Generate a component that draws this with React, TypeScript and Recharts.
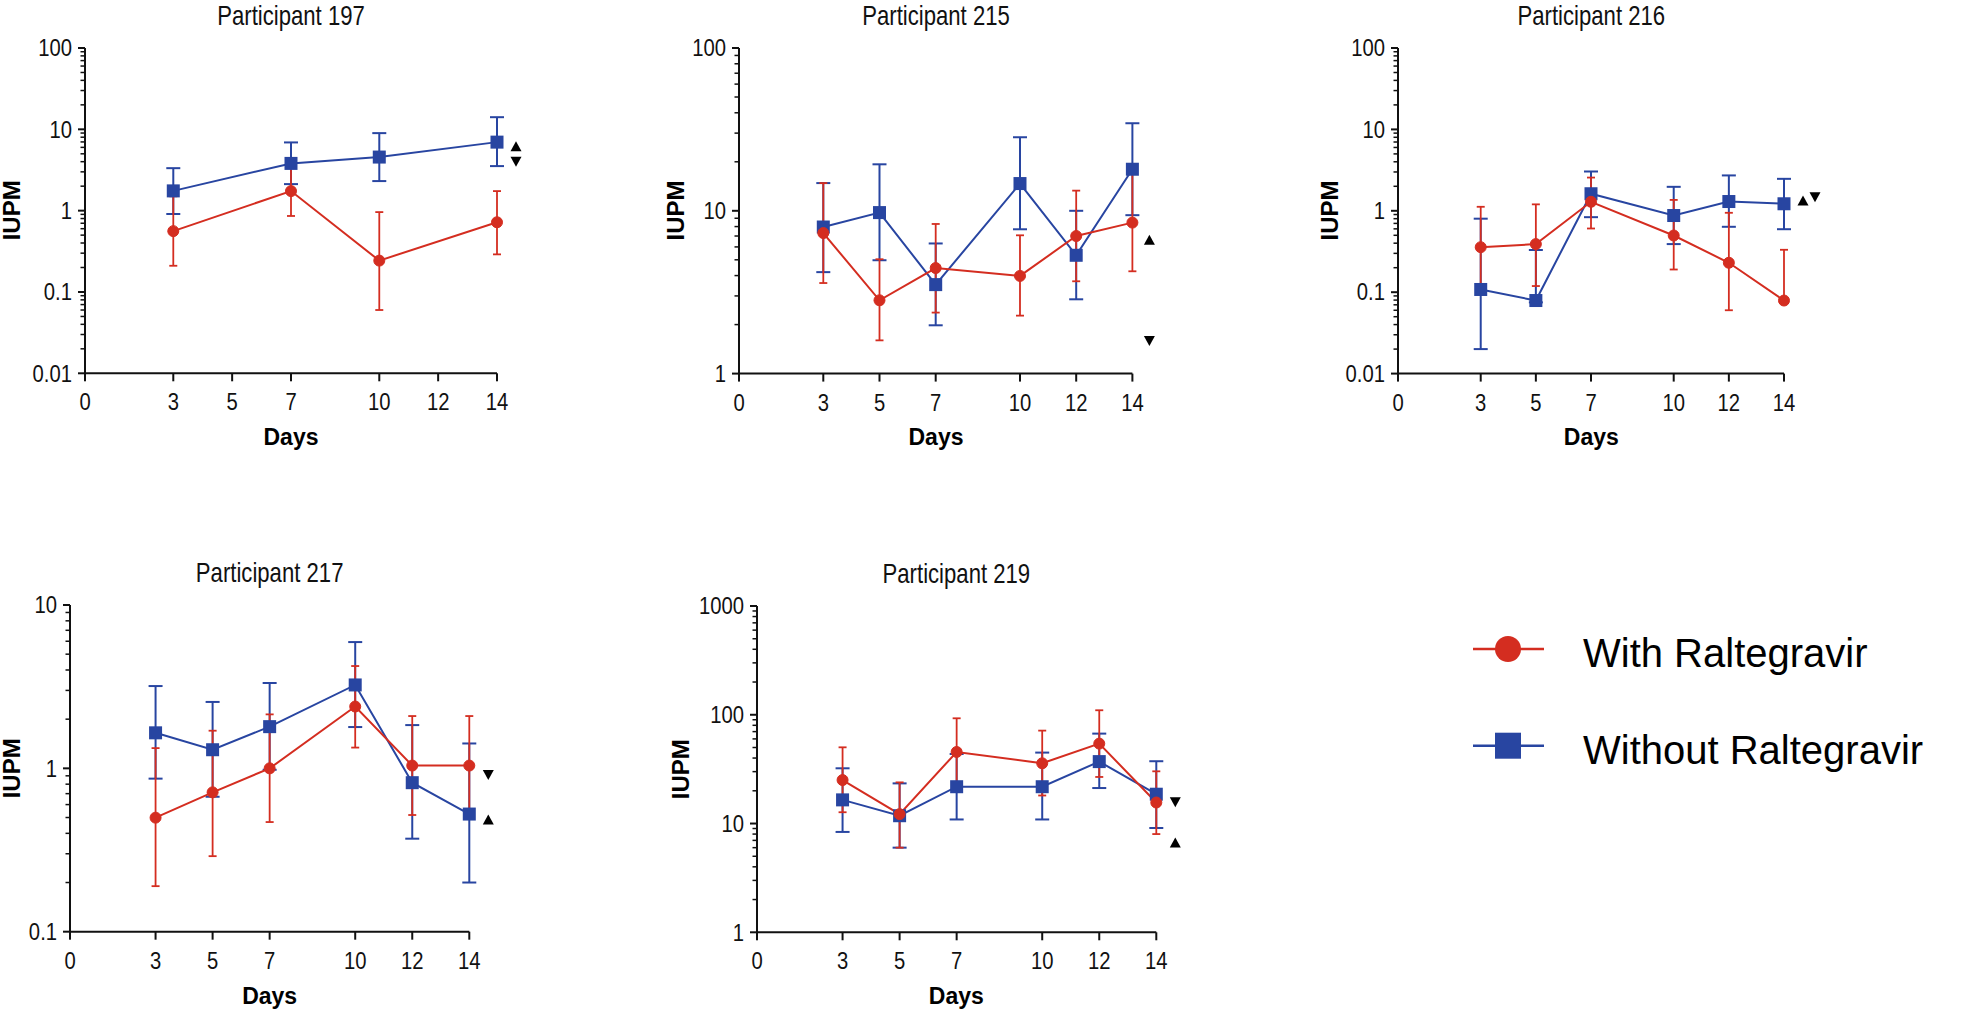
import React from "react";
import { LineChart, Line, XAxis, YAxis, ErrorBar, ReferenceDot } from "recharts";

const RED = "#D42D20";
const BLUE = "#2845A1";
const INK = "#111111";
const SANS = "'Liberation Sans', Arial, Helvetica, sans-serif";

const seriesNames = ["With Raltegravir", "Without Raltegravir"];
const dayTicks = [0, 3, 5, 7, 10, 12, 14];

// Participant 197
const p197Days = [3, 7, 10, 14];
const p197With = [0.56, 1.74, 0.243, 0.72];
const p197WithLow = [0.21, 0.86, 0.06, 0.29];
const p197WithHigh = [1.5, 3.4, 0.96, 1.74];
const p197Without = [1.75, 3.81, 4.56, 6.96];
const p197WithoutLow = [0.91, 2.12, 2.31, 3.53];
const p197WithoutHigh = [3.33, 6.9, 8.98, 14.1];
const p197YTicks = [0.01, 0.1, 1, 10, 100];
const p197Marks = [{ value: 6.2, dir: "up" }, { value: 4.0, dir: "down" }];

// Participant 215
const p215Days = [3, 5, 7, 10, 12, 14];
const p215With = [7.3, 2.82, 4.45, 3.98, 7.0, 8.46];
const p215WithLow = [3.6, 1.6, 2.37, 2.27, 3.69, 4.25];
const p215WithHigh = [14.8, 5.04, 8.3, 7.07, 13.3, 16.9];
const p215Without = [7.95, 9.75, 3.52, 14.7, 5.33, 18];
const p215WithoutLow = [4.2, 4.97, 1.98, 7.7, 2.86, 9.4];
const p215WithoutHigh = [14.8, 19.3, 6.3, 28.3, 10, 34.5];
const p215YTicks = [1, 10, 100];
const p215Marks = [{ value: 6.65, dir: "up" }, { value: 1.585, dir: "down" }];

// Participant 216
const p216Days = [3, 5, 7, 10, 12, 14];
const p216With = [0.357, 0.39, 1.29, 0.497, 0.23, 0.079];
const p216WithLow = [0.119, 0.119, 0.606, 0.19, 0.06, 0.075];
const p216WithHigh = [1.12, 1.2, 2.56, 1.36, 0.945, 0.332];
const p216Without = [0.108, 0.079, 1.62, 0.875, 1.3, 1.22];
const p216WithoutLow = [0.02, 0.075, 0.835, 0.39, 0.636, 0.594];
const p216WithoutHigh = [0.8, 0.33, 3.04, 1.97, 2.72, 2.47];
const p216YTicks = [0.01, 0.1, 1, 10, 100];
const p216Marks = [{ value: 1.34, dir: "up" }, { value: 1.47, dir: "down" }];

// Participant 217
const p217Days = [3, 5, 7, 10, 12, 14];
const p217With = [0.499, 0.713, 1.0, 2.39, 1.04, 1.04];
const p217WithLow = [0.19, 0.29, 0.469, 1.34, 0.518, 0.518];
const p217WithHigh = [1.33, 1.7, 2.14, 4.23, 2.09, 2.09];
const p217Without = [1.65, 1.3, 1.8, 3.24, 0.817, 0.525];
const p217WithoutLow = [0.865, 0.67, 0.98, 1.79, 0.371, 0.2];
const p217WithoutHigh = [3.19, 2.55, 3.33, 5.93, 1.84, 1.42];
const p217YTicks = [0.1, 1, 10];
const p217Marks = [{ value: 0.91, dir: "down" }, { value: 0.487, dir: "up" }];

// Participant 219
const p219Days = [3, 5, 7, 10, 12, 14];
const p219With = [25.1, 12.2, 45.5, 35.8, 54.3, 15.6];
const p219WithLow = [12.7, 6.0, 22.6, 18.1, 26.8, 8.0];
const p219WithHigh = [50.2, 23.9, 92.8, 71.5, 110, 30.2];
const p219Without = [16.5, 11.8, 21.8, 21.8, 37.1, 18.6];
const p219WithoutLow = [8.37, 6.0, 10.9, 10.9, 21.2, 9.1];
const p219WithoutHigh = [32.2, 23.4, 43.6, 44.9, 67.1, 37.4];
const p219YTicks = [1, 10, 100, 1000];
const p219Marks = [{ value: 15.7, dir: "down" }, { value: 6.7, dir: "up" }];

const buildRows = (days, w, wl, wh, wo, wol, woh) =>
  days.map((d, i) => ({
    day: d,
    with: w[i],
    withErr: [w[i] - wl[i], wh[i] - w[i]],
    without: wo[i],
    withoutErr: [wo[i] - wol[i], woh[i] - wo[i]],
  }));

const panels = [
  {
    title: "Participant 197",
    rows: buildRows(p197Days, p197With, p197WithLow, p197WithHigh, p197Without, p197WithoutLow, p197WithoutHigh),
    yTicks: p197YTicks,
    marks: p197Marks,
    markDx: [19, 19],
    rect: { left: 85, top: 47.7, right: 497, bottom: 373 },
    yLabelOff: 73,
  },
  {
    title: "Participant 215",
    rows: buildRows(p215Days, p215With, p215WithLow, p215WithHigh, p215Without, p215WithoutLow, p215WithoutHigh),
    yTicks: p215YTicks,
    marks: p215Marks,
    markDx: [17, 17],
    rect: { left: 739.3, top: 47.7, right: 1132.7, bottom: 373.3 },
    yLabelOff: 63.5,
  },
  {
    title: "Participant 216",
    rows: buildRows(p216Days, p216With, p216WithLow, p216WithHigh, p216Without, p216WithoutLow, p216WithoutHigh),
    yTicks: p216YTicks,
    marks: p216Marks,
    markDx: [19, 31],
    rect: { left: 1398.3, top: 47.7, right: 1784.3, bottom: 373.3 },
    yLabelOff: 69,
  },
  {
    title: "Participant 217",
    rows: buildRows(p217Days, p217With, p217WithLow, p217WithHigh, p217Without, p217WithoutLow, p217WithoutHigh),
    yTicks: p217YTicks,
    marks: p217Marks,
    markDx: [19, 19],
    rect: { left: 70, top: 605, right: 469.3, bottom: 931.7 },
    yLabelOff: 58,
  },
  {
    title: "Participant 219",
    rows: buildRows(p219Days, p219With, p219WithLow, p219WithHigh, p219Without, p219WithoutLow, p219WithoutHigh),
    yTicks: p219YTicks,
    marks: p219Marks,
    markDx: [19, 19],
    rect: { left: 756.7, top: 606, right: 1156, bottom: 932.3 },
    yLabelOff: 75.7,
  },
];

// condensed-looking text: regular face squeezed horizontally around its anchor
const Narrow = ({ x, y, dy = 0, anchor = "middle", size = 23, squeeze = 0.88, children }) => (
  <text
    transform={`translate(${x} ${y}) scale(${squeeze} 1)`}
    x={0}
    y={0}
    dy={dy}
    textAnchor={anchor}
    fontFamily={SANS}
    fontSize={size}
    fill={INK}
  >
    {children}
  </text>
);

const XTick = (props) => {
  const { x, y, payload } = props;
  return <Narrow x={x} y={y} dy={27}>{payload.value}</Narrow>;
};

// decade ticks get a label; the 2..9 minor ticks of the decade above are drawn with them
const YTick = (props) => {
  const { x, y, payload, majors, decadePx } = props;
  const last = payload.value === majors[majors.length - 1];
  const minors = last ? [] : [2, 3, 4, 5, 6, 7, 8, 9];
  return (
    <g>
      <line x1={x - 7} x2={x} y1={y} y2={y} stroke={INK} strokeWidth={2} />
      {minors.map((k) => {
        const yy = y - Math.log10(k) * decadePx;
        return <line key={k} x1={x - 4.5} x2={x} y1={yy} y2={yy} stroke={INK} strokeWidth={1.5} />;
      })}
      <Narrow x={x - 13} y={y} dy={8.2} anchor="end">{String(payload.value)}</Narrow>
    </g>
  );
};

const SquareDot = (props) => {
  const { cx, cy, index } = props;
  if (cx == null || cy == null) return null;
  return <rect key={`sq-${index}`} x={cx - 6.5} y={cy - 6.5} width={13} height={13} fill={BLUE} />;
};

const Tri = ({ cx, cy, dir }) => {
  const d =
    dir === "up"
      ? `M${cx},${cy - 5} L${cx + 5.5},${cy + 5} L${cx - 5.5},${cy + 5} Z`
      : `M${cx},${cy + 5} L${cx + 5.5},${cy - 5} L${cx - 5.5},${cy - 5} Z`;
  return <path d={d} fill="#000" />;
};

const PAD_L = 70;
const PAD_T = 48;
const PAD_R = 50;
const PAD_B = 80;

function Panel({ cfg }) {
  const { rect } = cfg;
  const w = rect.right - rect.left + PAD_L + PAD_R;
  const h = rect.bottom - rect.top + PAD_T + PAD_B;
  const lo = cfg.yTicks[0];
  const hi = cfg.yTicks[cfg.yTicks.length - 1];
  const decadePx = (rect.bottom - rect.top) / (cfg.yTicks.length - 1);
  return (
    <div style={{ position: "absolute", left: rect.left - PAD_L, top: rect.top - PAD_T }}>
      <LineChart width={w} height={h} data={cfg.rows} margin={{ top: PAD_T, right: PAD_R, left: 10, bottom: 5 }}>
        <XAxis
          dataKey="day"
          type="number"
          domain={[0, 14]}
          ticks={dayTicks}
          interval={0}
          height={75}
          axisLine={{ stroke: INK, strokeWidth: 2 }}
          tickLine={{ stroke: INK, strokeWidth: 2 }}
          tickSize={8}
          tickMargin={2}
          tick={<XTick />}
        />
        <YAxis
          type="number"
          scale="log"
          domain={[lo, hi]}
          ticks={cfg.yTicks}
          interval={0}
          width={60}
          axisLine={{ stroke: INK, strokeWidth: 2 }}
          tickLine={false}
          tickSize={0}
          tickMargin={0}
          tick={(p) => <YTick {...p} majors={cfg.yTicks} decadePx={decadePx} />}
        />
        <Line
          dataKey="without"
          name={seriesNames[1]}
          stroke={BLUE}
          strokeWidth={2}
          dot={<SquareDot />}
          activeDot={false}
          isAnimationActive={false}
        >
          <ErrorBar dataKey="withoutErr" direction="y" width={7} strokeWidth={2} stroke={BLUE} isAnimationActive={false} />
        </Line>
        <Line
          dataKey="with"
          name={seriesNames[0]}
          stroke={RED}
          strokeWidth={2}
          dot={{ r: 5.5, fill: RED, stroke: RED, strokeWidth: 1 }}
          activeDot={false}
          isAnimationActive={false}
        >
          <ErrorBar dataKey="withErr" direction="y" width={4} strokeWidth={1.8} stroke={RED} isAnimationActive={false} />
        </Line>
        {cfg.marks.map((m, i) => (
          <ReferenceDot
            key={`m-${i}`}
            x={14}
            y={m.value}
            r={0}
            ifOverflow="visible"
            shape={(p) => <Tri cx={p.cx + cfg.markDx[i]} cy={p.cy} dir={m.dir} />}
          />
        ))}
      </LineChart>
    </div>
  );
}

function Overlay() {
  return (
    <svg width={1961} height={1016} style={{ position: "absolute", left: 0, top: 0, pointerEvents: "none" }}>
      {panels.map((cfg, i) => {
        const { rect } = cfg;
        const cx = (rect.left + rect.right) / 2;
        const cy = (rect.top + rect.bottom) / 2;
        const lx = rect.left - cfg.yLabelOff + 8.5;
        return (
          <g key={`o-${i}`}>
            <Narrow x={cx} y={rect.top - 23} size={27} squeeze={0.82}>{cfg.title}</Narrow>
            <text x={cx} y={rect.bottom + 72} textAnchor="middle" fontFamily={SANS} fontWeight="bold" fontSize={23} fill="#000">
              Days
            </text>
            <text
              x={lx}
              y={cy}
              transform={`rotate(-90 ${lx} ${cy})`}
              textAnchor="middle"
              fontFamily={SANS}
              fontWeight="bold"
              fontSize={24}
              fill="#000"
            >
              IUPM
            </text>
          </g>
        );
      })}
      <g>
        <line x1={1473} x2={1544} y1={649} y2={649} stroke={RED} strokeWidth={2.5} />
        <circle cx={1508} cy={649} r={13} fill={RED} />
        <text x={1583} y={667} fontFamily={SANS} fontSize={40} fill="#000">
          {seriesNames[0]}
        </text>
        <line x1={1473} x2={1544} y1={745.7} y2={745.7} stroke={BLUE} strokeWidth={2.5} />
        <rect x={1495} y={732.7} width={26} height={26} fill={BLUE} />
        <text x={1583} y={764} fontFamily={SANS} fontSize={40} fill="#000">
          {seriesNames[1]}
        </text>
      </g>
    </svg>
  );
}

export default function App() {
  return (
    <div style={{ position: "absolute", left: 0, top: 0, width: 1961, height: 1016, background: "#fff" }}>
      {panels.map((cfg, i) => (
        <Panel key={`p-${i}`} cfg={cfg} />
      ))}
      <Overlay />
    </div>
  );
}
